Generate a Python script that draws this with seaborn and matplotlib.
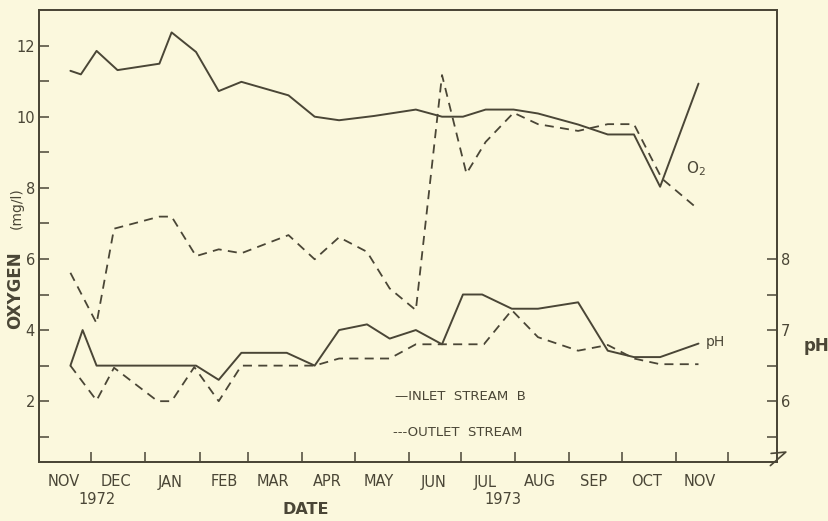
import pandas as pd
import numpy as np
import matplotlib
matplotlib.use("Agg")
import matplotlib.pyplot as plt
import matplotlib.dates as mdates
from matplotlib.ticker import FixedLocator, NullFormatter
import seaborn as sns

# Dissolved oxygen (mg/l), inlet stream B
inlet_o2_dates = ["1972-11-19", "1972-11-25", "1972-12-04", "1972-12-16", "1973-01-09",
                  "1973-01-16", "1973-01-30", "1973-02-12", "1973-02-25", "1973-03-24",
                  "1973-04-08", "1973-04-22", "1973-05-12", "1973-06-05", "1973-06-20",
                  "1973-07-02", "1973-07-15", "1973-07-31", "1973-08-14", "1973-09-06",
                  "1973-09-23", "1973-10-08", "1973-10-23", "1973-11-14"]
inlet_o2 = [11.29, 11.19, 11.85, 11.31, 11.49, 12.37, 11.82, 10.72, 10.98, 10.60,
            10.00, 9.90, 10.02, 10.20, 10.00, 10.00, 10.20, 10.20, 10.09, 9.78,
            9.50, 9.50, 8.03, 10.93]

# Dissolved oxygen (mg/l), outlet stream
outlet_o2_dates = ["1972-11-19", "1972-12-04", "1972-12-14", "1973-01-09", "1973-01-16",
                   "1973-01-30", "1973-02-12", "1973-02-25", "1973-03-24", "1973-04-08",
                   "1973-04-22", "1973-05-08", "1973-05-21", "1973-06-05", "1973-06-20",
                   "1973-07-04", "1973-07-15", "1973-07-31", "1973-08-14", "1973-09-06",
                   "1973-09-23", "1973-10-08", "1973-10-24", "1973-11-14"]
outlet_o2 = [5.61, 4.19, 6.85, 7.19, 7.19, 6.08, 6.27, 6.16, 6.67, 5.99,
             6.61, 6.20, 5.17, 4.56, 11.17, 8.40, 9.29, 10.11, 9.79, 9.60,
             9.79, 9.79, 8.26, 7.39]

# pH, inlet stream B
inlet_ph_dates = ["1972-11-19", "1972-11-26", "1972-12-04", "1973-01-30", "1973-02-12",
                  "1973-02-25", "1973-03-23", "1973-04-08", "1973-04-22", "1973-05-08",
                  "1973-05-21", "1973-06-05", "1973-06-20", "1973-07-02", "1973-07-13",
                  "1973-07-30", "1973-08-14", "1973-09-06", "1973-09-23", "1973-10-08",
                  "1973-10-23", "1973-11-14"]
inlet_ph = [6.50, 7.00, 6.50, 6.50, 6.30, 6.68, 6.68, 6.50, 7.00, 7.08,
            6.88, 7.00, 6.80, 7.50, 7.50, 7.30, 7.30, 7.39, 6.71, 6.62,
            6.62, 6.81]

# pH, outlet stream
outlet_ph_dates = ["1972-11-19", "1972-12-04", "1972-12-14", "1973-01-08", "1973-01-16",
                   "1973-01-29", "1973-02-12", "1973-02-25", "1973-04-08", "1973-04-22",
                   "1973-05-13", "1973-05-21", "1973-06-05", "1973-07-14", "1973-07-30",
                   "1973-08-14", "1973-09-06", "1973-09-23", "1973-10-08", "1973-10-23",
                   "1973-11-14"]
outlet_ph = [6.50, 6.01, 6.47, 6.00, 6.00, 6.48, 6.00, 6.50, 6.50, 6.60,
             6.60, 6.60, 6.80, 6.80, 7.28, 6.90, 6.71, 6.79, 6.60, 6.52,
             6.52]

month_labels = ["NOV", "DEC", "JAN", "FEB", "MAR", "APR", "MAY", "JUN",
                "JUL", "AUG", "SEP", "OCT", "NOV"]
o2_major = [2, 4, 6, 8, 10, 12]
o2_minor = [1, 3, 5, 7, 9, 11]
ph_major = [6, 7, 8]
ph_minor = [5.5, 6.5, 7.5]

BG = "#fbf8dd"
INK = "#4a4636"
DASH = (0, (5, 3.5))

sns.set_theme(style="ticks")
plt.rcParams["font.family"] = ["DejaVu Sans"]
plt.rcParams["text.color"] = INK
plt.rcParams["axes.edgecolor"] = INK
plt.rcParams["xtick.color"] = INK
plt.rcParams["ytick.color"] = INK

fig = plt.figure(figsize=(8.29, 5.21), dpi=100, facecolor=BG)
ax = fig.add_axes([39 / 829, 1 - 462 / 521, 738 / 829, 452 / 521])
ax.set_facecolor(BG)
ax2 = ax.twinx()

# oxygen on the left scale
sns.lineplot(x=pd.to_datetime(inlet_o2_dates), y=inlet_o2, ax=ax, color=INK,
             lw=1.4, sort=False, estimator=None)
sns.lineplot(x=pd.to_datetime(outlet_o2_dates), y=outlet_o2, ax=ax, color=INK,
             lw=1.3, sort=False, estimator=None, linestyle=DASH)

# pH on the right scale
sns.lineplot(x=pd.to_datetime(inlet_ph_dates), y=inlet_ph, ax=ax2, color=INK,
             lw=1.4, sort=False, estimator=None)
sns.lineplot(x=pd.to_datetime(outlet_ph_dates), y=outlet_ph, ax=ax2, color=INK,
             lw=1.3, sort=False, estimator=None, linestyle=DASH)

# scales: pH = O2 / 2 + 5
o2_lim = (0.29, 13.0)
ax.set_ylim(o2_lim)
ax2.set_ylim(o2_lim[0] / 2 + 5, o2_lim[1] / 2 + 5)
ax.set_xlim(pd.Timestamp("1972-11-01"), pd.Timestamp("1973-12-29"))

ax.yaxis.set_major_locator(FixedLocator(o2_major))
ax.yaxis.set_minor_locator(FixedLocator(o2_minor))
ax2.yaxis.set_major_locator(FixedLocator(ph_major))
ax2.yaxis.set_minor_locator(FixedLocator(ph_minor))

month_starts = pd.date_range("1972-12-01", "1973-12-01", freq="MS")
month_mids = pd.date_range("1972-11-01", periods=13, freq="MS") + pd.Timedelta(days=14)
ax.set_xticks(month_starts)
ax.xaxis.set_major_formatter(NullFormatter())
ax.set_xticks(month_mids, minor=True)
ax.set_xticklabels(month_labels, minor=True)

ax.tick_params(axis="x", which="major", direction="in", length=7, width=1.1)
ax.tick_params(axis="x", which="minor", length=0, pad=9, labelsize=10.5)
ax.tick_params(axis="y", which="both", direction="in", length=7, width=1.1,
               labelsize=10.5, pad=3)
ax2.tick_params(axis="y", which="both", direction="in", length=7, width=1.1,
                labelsize=10.5, pad=3)
ax.set_xlabel("")
ax.set_ylabel("")
ax2.set_ylabel("")

for a in (ax, ax2):
    for s in a.spines.values():
        s.set_visible(True)
        s.set_linewidth(1.3)
        s.set_color(INK)

# axis titles
ax.annotate("1972", xy=(pd.Timestamp("1972-12-04"), -0.082), xycoords=("data", "axes fraction"),
            ha="center", va="center", fontsize=10.5)
ax.annotate("1973", xy=(pd.Timestamp("1973-07-25"), -0.082), xycoords=("data", "axes fraction"),
            ha="center", va="center", fontsize=10.5)
ax.annotate("DATE", xy=(pd.Timestamp("1973-04-03"), -0.106), xycoords=("data", "axes fraction"),
            ha="center", va="center", fontsize=11.5, fontweight="bold")
fig.text(15 / 829, 1 - 290 / 521, "OXYGEN", rotation=90, ha="center", va="center",
         fontsize=12, fontweight="bold")
fig.text(17 / 829, 1 - 208 / 521, "(mg/l)", rotation=90, ha="center", va="center",
         fontsize=10)
fig.text(817 / 829, 1 - 346 / 521, "pH", ha="center", va="center",
         fontsize=12, fontweight="bold")

# in-plot labels
ax.text(pd.Timestamp("1973-11-07"), 8.55, "O$_2$", fontsize=11, ha="left", va="center")
ax2.text(pd.Timestamp("1973-11-18"), 6.83, "pH", fontsize=10, ha="left", va="center")
ax.text(0.482, 0.144, "\u2014INLET  STREAM  B", transform=ax.transAxes,
        fontsize=9.5, ha="left", va="center")
ax.text(0.480, 0.066, "---OUTLET  STREAM", transform=ax.transAxes,
        fontsize=9.5, ha="left", va="center")

# axis break mark on the right scale
ax.plot([0.992, 1.012, 0.991], [0.019, 0.022, -0.008], transform=ax.transAxes,
        color=INK, lw=1.2, clip_on=False)

fig.savefig("out.png", dpi=100, facecolor=BG)
